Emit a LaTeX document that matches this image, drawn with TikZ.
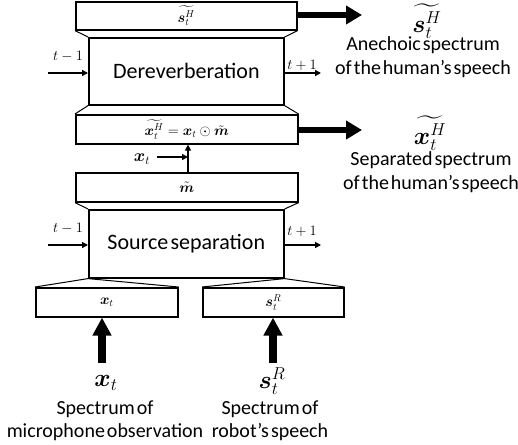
\documentclass[tikz,border=0pt]{standalone}
\usepackage{amsmath,bm}
\usepackage{fontspec}
\setmainfont{Carlito}
\usetikzlibrary{arrows.meta,calc}
\begin{document}
\begin{tikzpicture}[x=1pt,y=-1pt,
  box/.style={draw,line width=1.6pt,inner sep=0pt,anchor=north west,font=\fontsize{14.4}{16}\selectfont},
  bigtext/.style={font=\fontsize{22}{26}\selectfont},
  lbl/.style={align=center,inner sep=0pt,font=\fontsize{20}{24}\selectfont},
  trap/.style={line width=1pt},
  thin arrow/.style={line width=1.3pt,-{Triangle[length=6pt,width=6pt]}},
  fat arrow/.style={line width=6pt,-{Triangle[length=16pt,width=18pt]}},
  tiny/.style={inner sep=0pt,font=\fontsize{14}{16}\selectfont},
  mathlbl/.style={inner sep=0pt,font=\fontsize{24}{26}\selectfont}
]
\useasboundingbox (0,0) rectangle (518,444);
\newcommand{\ws}{\spaceskip=0.1em plus 0.05em\relax}

% boxes
\node[box,minimum width=221pt,minimum height=28pt] (sH) at (75,1) {$\widetilde{\bm{s}_t^{H}}$};
\node[box,minimum width=195pt,minimum height=67pt,bigtext] (der) at (88,37) {Dereverberation};
\node[box,minimum width=222pt,minimum height=29pt] (xH) at (75,114) {$\widetilde{\bm{x}_t^{H}} = \bm{x}_t \odot \tilde{\bm{m}}$};
\node[box,minimum width=222pt,minimum height=29pt] (m) at (75,172) {$\tilde{\bm{m}}$};
\node[box,minimum width=195pt,minimum height=68pt,bigtext] (ss) at (88,209) {\ws Source separation};
\node[box,minimum width=142pt,minimum height=29pt] (xb) at (35,287) {$\bm{x}_t$};
\node[box,minimum width=141pt,minimum height=29pt] (sb) at (202,287) {$\bm{s}_t^{R}$};

% trapezoid connectors
\draw[trap] (sH.south west) -- (der.north west);
\draw[trap] (sH.south east) -- (der.north east);
\draw[trap] (der.south west) -- (xH.north west);
\draw[trap] (der.south east) -- (xH.north east);
\draw[trap] (m.south west) -- (ss.north west);
\draw[trap] (m.south east) -- (ss.north east);
\draw[trap] (ss.south west) -- (xb.north west);
\draw[trap] (ss.south west) -- (xb.north east);
\draw[trap] (ss.south east) -- (sb.north west);
\draw[trap] (ss.south east) -- (sb.north east);

% time arrows
\coordinate (dl) at (48,73);
\coordinate (dr) at (321,73);
\draw[thin arrow] (dl) -- (dl -| der.west);
\draw[thin arrow] (dr -| der.east) -- (dr);
\node[tiny] (dlt) at (68,56) {$t-1$};
\node[tiny] (drt) at (302,65) {$t+1$};

\coordinate (sl) at (48,245);
\coordinate (sr) at (321,245);
\draw[thin arrow] (sl) -- (sl -| ss.west);
\draw[thin arrow] (sr -| ss.east) -- (sr);
\node[tiny] (slt) at (68,228) {$t-1$};
\node[tiny] (srt) at (302,231) {$t+1$};

% mask multiplication
\coordinate (vx) at (188,157);
\draw[thin arrow] (vx |- m.north) -- (vx |- xH.south);
\node[inner sep=0pt,font=\fontsize{17.28}{18}\selectfont] (xtl) at (142,159) {$\bm{x}_t$};
\coordinate (xs) at (157,157);
\draw[thin arrow] (xs) -- (vx);

% output arrows
\coordinate (o1) at (362,15);
\coordinate (o2) at (362,130);
\draw[fat arrow] (o1 -| sH.east) -- (o1);
\draw[fat arrow] (o2 -| xH.east) -- (o2);
\node[mathlbl] (sHl) at (427,21) {$\widetilde{\bm{s}_t^{H}}$};
\node[lbl] (sHt) at (423,57) {\ws Anechoic spectrum\\\ws of the human’s speech};
\node[mathlbl] (xHl) at (430,133) {$\widetilde{\bm{x}_t^{H}}$};
\node[lbl] (xHt) at (431,172) {\ws Separated spectrum\\\ws of the human’s speech};

% input arrows
\coordinate (i1) at (102,363);
\coordinate (i2) at (273,363);
\draw[line width=8pt,-{Triangle[length=18pt,width=18pt]}] (i1) -- (i1 |- xb.south);
\draw[line width=8pt,-{Triangle[length=18pt,width=18pt]}] (i2) -- (i2 |- sb.south);
\node[mathlbl,font=\fontsize{26}{28}\selectfont] (xin) at (106,383) {$\bm{x}_t$};
\node[mathlbl,font=\fontsize{26}{28}\selectfont] (sin) at (272,381) {$\bm{s}_t^{R}$};
\node[lbl,font=\fontsize{20}{23}\selectfont] (xint) at (105,421) {\ws Spectrum of\\\ws microphone observation};
\node[lbl,font=\fontsize{20}{23}\selectfont] (sint) at (270,421) {\ws Spectrum of\\\ws robot’s speech};
\end{tikzpicture}
\end{document}
